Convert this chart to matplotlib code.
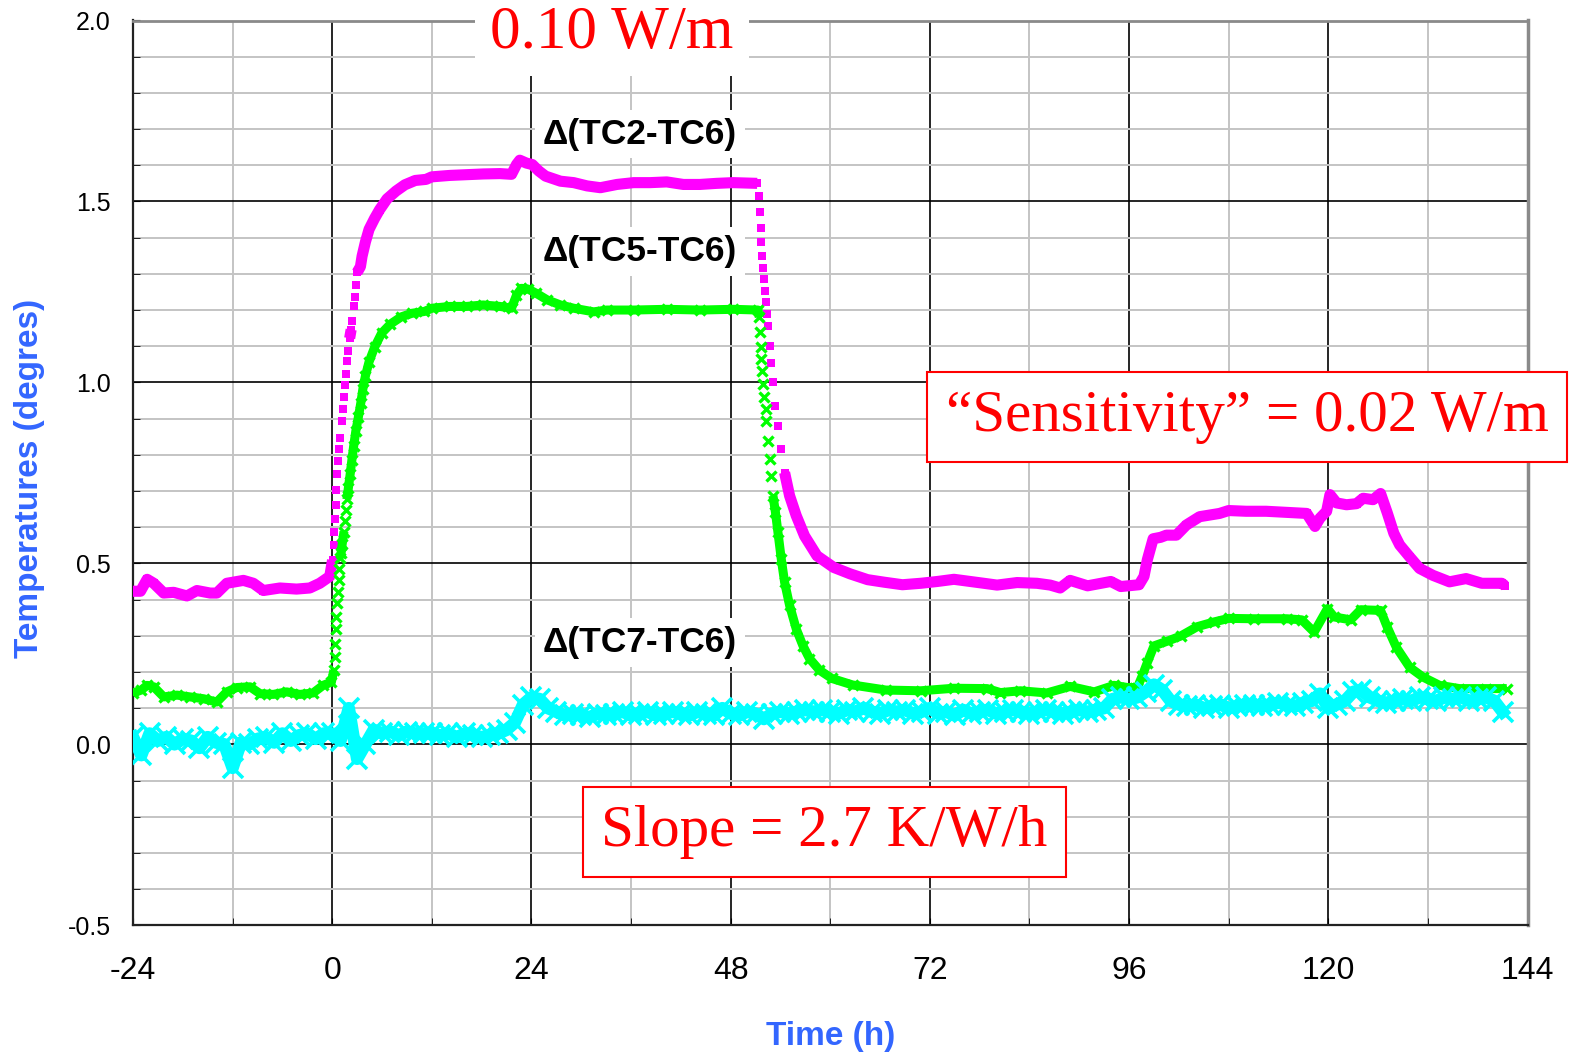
import numpy as np
import matplotlib
matplotlib.use('Agg')
from matplotlib import pyplot as plt
from matplotlib.ticker import MultipleLocator, FormatStrFormatter

plt.rcParams['axes.unicode_minus'] = False

# delta(TC2-TC6), magenta squares
t_tc2 = [-24, -23.1, -22.3, -21.5, -20.3, -19.1, -17.5, -16.3, -14.7, -13.9, -12.7, -10.7, -9.5, -8.3,
         -6.3, -4.3, -2.7, -1.5, -0.3,
         0.04, 0.2, 0.25, 0.34, 0.43, 0.47, 0.56, 0.73, 0.86, 0.99, 1.12, 1.3, 1.42, 1.51, 1.64, 1.77,
         1.94, 2.1, 2.28, 2.37, 2.59, 2.72, 2.84, 3.0, 3.4, 3.6, 4.0, 4.44, 5.1, 5.7, 6.6, 7.7, 8.75,
         10.0, 11.3,
         12, 14.2, 16.2, 18.2, 20.2, 21.6, 22.2, 22.6, 23.4, 24.1, 24.9, 25.7, 27.5, 29.1, 30.7, 32.3,
         34.3, 36.3, 38.3, 40.3, 42.3, 44.3, 46.3, 48.3, 51.2,
         51.4, 51.5, 51.6, 51.7, 51.8, 51.9, 52.05, 52.15, 52.3, 52.4, 52.5, 52.7, 52.9, 53.1, 53.4,
         53.7, 54.1, 54.5, 55.1, 55.9, 56.9, 58.4, 60.4, 62.4, 64.5, 66.5, 68.7,
         70.9, 72.9, 74.9, 76.9, 78.5, 80.1, 82.5, 84.9, 86.5, 87.7, 88.9, 91, 93.8, 95, 97.2,
         97.8, 98.2, 98.9, 99.8, 100.5, 101.7, 102.9, 104.5, 106.9, 108, 110.1, 112.5, 114.9, 117.4,
         118.4, 119, 119.8, 120.2, 121, 122.2, 123.4, 124.2, 125.4, 126.3,
         127.1, 127.9, 128.6, 129.8, 131, 132.6, 134.6, 136.6, 138.5, 140.9, 141.3]
v_tc2 = [0.423, 0.423, 0.456, 0.445, 0.418, 0.42, 0.41, 0.425, 0.418, 0.418, 0.445, 0.453, 0.445, 0.425,
         0.432, 0.429, 0.432, 0.445, 0.464,
         0.509, 0.55, 0.586, 0.623, 0.662, 0.703, 0.746, 0.783, 0.817, 0.847, 0.894, 0.926, 0.96, 0.993,
         1.023, 1.06, 1.087, 1.122, 1.146, 1.171, 1.21, 1.235, 1.27, 1.304, 1.32, 1.349, 1.388, 1.423,
         1.453, 1.477, 1.507, 1.529, 1.546, 1.558, 1.561,
         1.568, 1.572, 1.574, 1.576, 1.577, 1.575, 1.602, 1.614, 1.606, 1.602, 1.584, 1.57, 1.556,
         1.552, 1.543, 1.538, 1.547, 1.552, 1.552, 1.554, 1.547, 1.547, 1.55, 1.552, 1.55,
         1.516, 1.47, 1.426, 1.387, 1.35, 1.316, 1.285, 1.253, 1.221, 1.189, 1.157, 1.101, 1.055, 1.0,
         0.936, 0.88, 0.816, 0.751, 0.687, 0.632, 0.576, 0.521, 0.489, 0.471, 0.455, 0.448, 0.441,
         0.445, 0.45, 0.456, 0.45, 0.445, 0.44, 0.447, 0.445, 0.44, 0.432, 0.453, 0.438, 0.45, 0.436,
         0.441, 0.464, 0.51, 0.568, 0.572, 0.578, 0.578, 0.606, 0.629, 0.638, 0.646, 0.644, 0.644,
         0.641, 0.638, 0.602, 0.625, 0.644, 0.69, 0.667, 0.662, 0.665, 0.68, 0.676, 0.693,
         0.64, 0.583, 0.551, 0.518, 0.486, 0.467, 0.449, 0.458, 0.445, 0.445, 0.438]

# delta(TC5-TC6), green crosses
t_tc5 = [-24, -23, -22.3, -21.5, -20.3, -18.7, -17.1, -15.5, -13.9, -12.7, -11.5, -9.9, -8.7, -7.1,
         -5.5, -3.9, -2.3, -1.1, -0.1,
         0.2, 0.3, 0.35, 0.45, 0.5, 0.56, 0.7, 0.8, 0.86, 0.95, 1.08, 1.2, 1.42, 1.51, 1.64, 1.77, 1.94,
         2.16, 2.37, 2.59, 2.84, 3.15, 3.45, 3.7, 4.0, 4.44, 5.1, 5.95, 7.0, 8.3, 9.6, 11.1,
         12, 14.2, 16.2, 18.2, 20.2, 21.6, 22.2, 22.8, 23.6, 24.6, 25.9, 27.5, 29.1, 31.5, 33.1, 36.3,
         40.3, 44.3, 48.3, 51.3,
         51.45, 51.5, 51.6, 51.7, 51.75, 51.9, 52.05, 52.2, 52.3, 52.5, 52.7, 52.9, 53.1, 53.4, 53.7,
         54.1, 54.5, 55.1, 55.9, 56.7, 57.5, 58.7, 60.2, 62.7, 66.7,
         70.9, 74.9, 78.9, 80.5, 82.9, 86.1, 88.9, 91.8, 94.2, 95.8, 97,
         97.6, 98.2, 99, 100.6, 102.2, 104.2, 106.2, 108, 111, 115, 116.8, 118.3, 119.9, 120.7, 122.7,
         123.9, 126.3, 127.1, 128.2, 129.8, 131.4, 133.4, 135.8, 139, 141.5]
v_tc5 = [0.142, 0.15, 0.163, 0.159, 0.131, 0.136, 0.131, 0.126, 0.117, 0.145, 0.157, 0.159, 0.14, 0.138,
         0.145, 0.138, 0.142, 0.163, 0.172,
         0.205, 0.24, 0.278, 0.32, 0.353, 0.39, 0.42, 0.455, 0.485, 0.515, 0.53, 0.553, 0.588, 0.618,
         0.647, 0.677, 0.707, 0.746, 0.786, 0.825, 0.865, 0.904, 0.944, 0.983, 1.018, 1.057, 1.097,
         1.136, 1.161, 1.181, 1.191, 1.196,
         1.205, 1.21, 1.21, 1.214, 1.21, 1.205, 1.241, 1.26, 1.258, 1.246, 1.228, 1.214, 1.205, 1.195,
         1.2, 1.2, 1.202, 1.2, 1.202, 1.2,
         1.18, 1.138, 1.097, 1.064, 1.032, 0.995, 0.959, 0.926, 0.894, 0.839, 0.788, 0.742, 0.687,
         0.641, 0.586, 0.512, 0.448, 0.384, 0.319, 0.273, 0.237, 0.205, 0.182, 0.164, 0.15,
         0.148, 0.155, 0.154, 0.143, 0.148, 0.142, 0.16, 0.145, 0.163, 0.157, 0.157,
         0.19, 0.226, 0.272, 0.285, 0.299, 0.325, 0.338, 0.348, 0.347, 0.347, 0.344, 0.31, 0.375,
         0.352, 0.344, 0.372, 0.37, 0.324, 0.268, 0.213, 0.186, 0.163, 0.154, 0.154, 0.154]

# delta(TC7-TC6), cyan crosses, one reading per hour from -24 h
t_tc7 = np.arange(-24, 142)
v_tc7 = [0.02, -0.03, 0.03, 0.01, 0.02, 0.0, 0.015, 0.01, -0.01, 0.02, 0.005, 0.0, -0.065, 0.005, 0.0,
         0.015, 0.02, 0.005, 0.03, 0.01, 0.025, 0.03, 0.015, 0.03,
         0.03, 0.01, 0.1, -0.04, 0.0, 0.04, 0.03, 0.035, 0.025, 0.035, 0.03, 0.03, 0.03, 0.025, 0.03,
         0.02, 0.03, 0.025, 0.02, 0.025, 0.03, 0.04, 0.06,
         0.11, 0.13, 0.125, 0.1, 0.09, 0.08, 0.085, 0.08, 0.075, 0.085, 0.08, 0.085, 0.09, 0.08, 0.085,
         0.09, 0.08, 0.085, 0.09, 0.085, 0.08, 0.09, 0.085, 0.08, 0.1, 0.085, 0.08, 0.09, 0.085,
         0.07, 0.085, 0.09, 0.085, 0.09, 0.095, 0.09, 0.095, 0.09, 0.085, 0.095, 0.09, 0.1, 0.09, 0.085,
         0.095, 0.09, 0.095, 0.085, 0.09, 0.1, 0.085, 0.09, 0.08, 0.095, 0.085, 0.09, 0.095, 0.085,
         0.09, 0.095, 0.09, 0.085, 0.09, 0.095, 0.09, 0.085, 0.09, 0.095, 0.09, 0.095, 0.1, 0.125,
         0.13, 0.125, 0.13, 0.145, 0.165, 0.15, 0.12, 0.11, 0.105, 0.11, 0.1, 0.105, 0.11, 0.1, 0.105,
         0.11, 0.11, 0.105, 0.11, 0.115, 0.11, 0.105, 0.115, 0.12, 0.14, 0.1, 0.11, 0.12, 0.145, 0.15,
         0.13, 0.12, 0.115, 0.12, 0.125, 0.12, 0.13, 0.125, 0.12, 0.13, 0.125, 0.13, 0.12, 0.125, 0.13,
         0.12, 0.09]

x_ticks = [-24, 0, 24, 48, 72, 96, 120, 144]
y_ticks = [-0.5, 0.0, 0.5, 1.0, 1.5, 2.0]

blue = '#3366ff'
red = '#ff0000'
W, H = 1577.0, 1052.0


def broken(t, v, max_slope=0.15):
    # break the joining line where the signal jumps fast, only markers show there
    t = np.asarray(t, float)
    v = np.asarray(v, float)
    tt, vv = [t[0]], [v[0]]
    for i in range(1, len(t)):
        if abs(v[i] - v[i - 1]) / (t[i] - t[i - 1]) > max_slope:
            tt.append(np.nan)
            vv.append(np.nan)
        tt.append(t[i])
        vv.append(v[i])
    return tt, vv


fig = plt.figure(figsize=(15.77, 10.52), dpi=100)
ax = fig.add_axes([133 / W, 1 - 925.3 / H, (1527.5 - 133) / W, (925.3 - 20.5) / H])

ax.set_xlim(-24, 144)
ax.set_ylim(-0.5, 2.0)
ax.set_axisbelow(True)

ax.xaxis.set_major_locator(MultipleLocator(24))
ax.xaxis.set_minor_locator(MultipleLocator(12))
ax.yaxis.set_major_locator(MultipleLocator(0.5))
ax.yaxis.set_minor_locator(MultipleLocator(0.1))
ax.set_xticks(x_ticks)
ax.set_yticks(y_ticks)
ax.yaxis.set_major_formatter(FormatStrFormatter('%.1f'))

ax.grid(which='minor', color='#c4c4c4', lw=1.4)
ax.grid(which='major', color='black', lw=1.2)
ax.tick_params(which='both', direction='in', length=5, color='black')
ax.tick_params(axis='y', labelsize=18, pad=16)
ax.tick_params(axis='x', labelsize=23, pad=22)
for lab in ax.get_xticklabels() + ax.get_yticklabels():
    lab.set_family('Liberation Sans')

ax.spines['left'].set_color('#222222')
ax.spines['left'].set_linewidth(1.6)
ax.spines['bottom'].set_color('#222222')
ax.spines['bottom'].set_linewidth(1.6)
ax.spines['top'].set_color('#8a8a8a')
ax.spines['top'].set_linewidth(2)
ax.spines['right'].set_color('#8a8a8a')
ax.spines['right'].set_linewidth(2.5)

# series
tl, vl = broken(t_tc2, v_tc2)
ax.plot(tl, vl, color='#ff00ff', lw=8.0, solid_capstyle='butt', zorder=3)
ax.plot(t_tc2, v_tc2, 's', color='#ff00ff', ms=6.2, mew=0, zorder=3)

tl, vl = broken(t_tc5, v_tc5, max_slope=0.2)
ax.plot(tl, vl, color='#00ff00', lw=6.5, solid_capstyle='butt', zorder=3)
ax.plot(t_tc5, v_tc5, 'x', color='#00ff00', ms=6.5, mew=2.4, zorder=3)

ax.plot(t_tc7, v_tc7, color='#00ffff', lw=9, zorder=3)
ax.plot(t_tc7, v_tc7, 'x', color='#00ffff', ms=14, mew=2.6, zorder=3)

# curve labels
lbl = dict(fontsize=25.5, fontweight='bold', family='Liberation Sans', ha='center', va='center',
           zorder=2.5, bbox=dict(fc='white', ec='none', boxstyle='square,pad=0.22'))
ax.text(37.05, 1.686, u'\u0394(TC2-TC6)', **lbl)
ax.text(37.05, 1.362, u'\u0394(TC5-TC6)', **lbl)
ax.text(37.05, 0.281, u'\u0394(TC7-TC6)', **lbl)

# red annotations
fig.text(612 / W, 1 - 33 / H, '0.10 W/m', fontsize=44, color=red, family='Liberation Serif',
         ha='center', va='center', bbox=dict(fc='white', ec='none', boxstyle='square,pad=0.25'))
fig.text(1247 / W, 1 - 417 / H, u'\u201cSensitivity\u201d = 0.02 W/m', fontsize=42.5, color=red,
         family='Liberation Serif', ha='center', va='center',
         bbox=dict(fc='white', ec=red, lw=1.5, boxstyle='square,pad=0.31'))
fig.text(824.5 / W, 1 - 832 / H, 'Slope = 2.7 K/W/h', fontsize=42.5, color=red,
         family='Liberation Serif', ha='center', va='center',
         bbox=dict(fc='white', ec=red, lw=1.5, boxstyle='square,pad=0.31'))

# axis titles
fig.text(30 / W, 1 - 478 / H, 'Temperatures (degres)', rotation=90, fontsize=24, fontweight='bold',
         color=blue, family='Liberation Sans', ha='center', va='center')
fig.text(831 / W, 1 - 1037 / H, 'Time (h)', fontsize=24, fontweight='bold', color=blue,
         family='Liberation Sans', ha='center', va='center')

plt.savefig('out.png', dpi=100)
plt.close('all')
